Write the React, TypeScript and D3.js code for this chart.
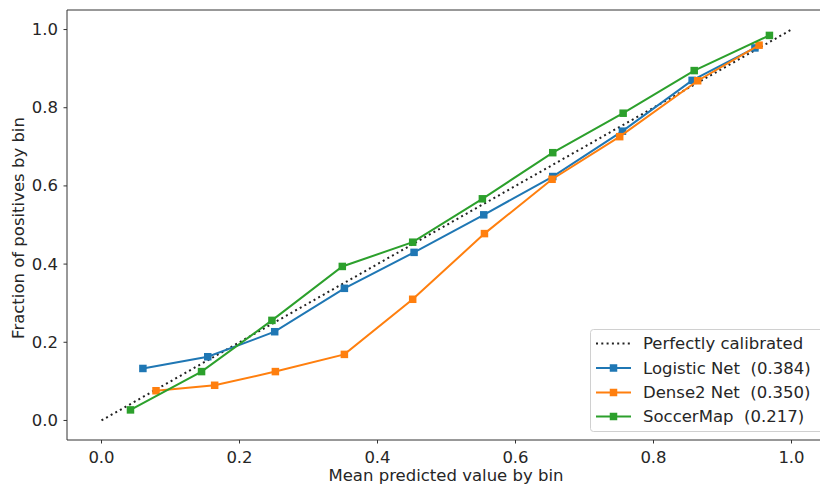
import React from "react";
import * as d3 from "d3";

const W = 820;
const H = 485;

const xTicks = [0.0, 0.2, 0.4, 0.6, 0.8, 1.0];
const yTicks = [0.0, 0.2, 0.4, 0.6, 0.8, 1.0];

const logisticX = [0.06, 0.154, 0.251, 0.352, 0.453, 0.554, 0.654, 0.755, 0.856, 0.947];
const logisticY = [0.133, 0.163, 0.227, 0.338, 0.43, 0.526, 0.624, 0.74, 0.87, 0.953];

const denseX = [0.079, 0.164, 0.252, 0.352, 0.451, 0.555, 0.653, 0.751, 0.864, 0.953];
const denseY = [0.076, 0.09, 0.125, 0.169, 0.31, 0.478, 0.617, 0.726, 0.869, 0.96];

const soccerX = [0.042, 0.145, 0.247, 0.349, 0.451, 0.552, 0.654, 0.756, 0.859, 0.968];
const soccerY = [0.027, 0.125, 0.256, 0.394, 0.456, 0.567, 0.685, 0.786, 0.895, 0.985];

const diagX = [0, 1];
const diagY = [0, 1];

const seriesNames = ["Logistic Net  (0.384)", "Dense2 Net  (0.350)", "SoccerMap  (0.217)"];
const seriesColors = ["#1f77b4", "#ff7f0e", "#2ca02c"];

const FONT = "'DejaVu Sans', sans-serif";
const TXT = "#262626";

export default function App() {
  const left = 67, top = 10, right = 826, bottom = 440;
  const x = d3.scaleLinear().domain([-0.05, 1.05]).range([left, right]);
  const y = d3.scaleLinear().domain([-0.05, 1.05]).range([bottom, top]);

  const line = d3
    .line<[number, number]>()
    .x((d) => x(d[0]))
    .y((d) => y(d[1]));

  const series = [
    { xs: logisticX, ys: logisticY },
    { xs: denseX, ys: denseY },
    { xs: soccerX, ys: soccerY },
  ];

  const ms = 7.5;
  const fs = 16.5;

  const legX = 590.5, legY = 329.5, legW = 240, legH = 102;
  const rowY = [343.5, 368, 392.5, 416.5];

  return (
    <svg width={W} height={H} style={{ position: "absolute", left: 0, top: 0, fontFamily: FONT }}>
      <rect x={0} y={0} width={W} height={H} fill="#fff" />
      <path
        d={line(diagX.map((v, i) => [v, diagY[i]]) as [number, number][]) || ""}
        fill="none"
        stroke="#222"
        strokeWidth={2}
        strokeDasharray="2 3.3"
      />
      {series.map((s, si) => {
        const pts = s.xs.map((v, i) => [v, s.ys[i]]) as [number, number][];
        return (
          <g key={si}>
            <path d={line(pts) || ""} fill="none" stroke={seriesColors[si]} strokeWidth={2} />
            {pts.map((p, i) => (
              <rect
                key={i}
                x={x(p[0]) - ms / 2}
                y={y(p[1]) - ms / 2}
                width={ms}
                height={ms}
                fill={seriesColors[si]}
              />
            ))}
          </g>
        );
      })}
      <line x1={left} x2={left} y1={top} y2={bottom} stroke="#333" strokeWidth={1} />
      <line x1={left} x2={right} y1={bottom} y2={bottom} stroke="#333" strokeWidth={1} />
      <line x1={left} x2={right} y1={top} y2={top} stroke="#333" strokeWidth={1} />
      {xTicks.map((t) => (
        <g key={"x" + t}>
          <line x1={x(t)} x2={x(t)} y1={bottom} y2={bottom + 3.5} stroke="#333" />
          <text x={x(t)} y={bottom + 17} fontSize={fs} fill={TXT} textAnchor="middle" dominantBaseline="central">
            {t.toFixed(1)}
          </text>
        </g>
      ))}
      {yTicks.map((t) => (
        <g key={"y" + t}>
          <line x1={left - 3.5} x2={left} y1={y(t)} y2={y(t)} stroke="#333" />
          <text x={left - 9} y={y(t)} fontSize={fs} fill={TXT} textAnchor="end" dominantBaseline="central">
            {t.toFixed(1)}
          </text>
        </g>
      ))}
      <text x={446} y={475} fontSize={fs} fill={TXT} textAnchor="middle" dominantBaseline="central">
        Mean predicted value by bin
      </text>
      <text
        transform={`translate(18,228) rotate(-90)`}
        fontSize={fs}
        fill={TXT}
        textAnchor="middle"
        dominantBaseline="central"
      >
        Fraction of positives by bin
      </text>
      <rect x={legX} y={legY} width={legW} height={legH} rx={3} fill="#fff" fillOpacity={0.8} stroke="#d0d0d0" />
      <line x1={596} x2={631} y1={rowY[0]} y2={rowY[0]} stroke="#222" strokeWidth={2} strokeDasharray="2 3.3" />
      <text x={643} y={rowY[0]} fontSize={fs} fill={TXT} dominantBaseline="central">
        Perfectly calibrated
      </text>
      {seriesNames.map((n, i) => (
        <g key={n}>
          <line x1={596} x2={631} y1={rowY[i + 1]} y2={rowY[i + 1]} stroke={seriesColors[i]} strokeWidth={2} />
          <rect x={613.5 - ms / 2} y={rowY[i + 1] - ms / 2} width={ms} height={ms} fill={seriesColors[i]} />
          <text x={643} y={rowY[i + 1]} fontSize={fs} fill={TXT} dominantBaseline="central" style={{ whiteSpace: "pre" }}>
            {n}
          </text>
        </g>
      ))}
    </svg>
  );
}
